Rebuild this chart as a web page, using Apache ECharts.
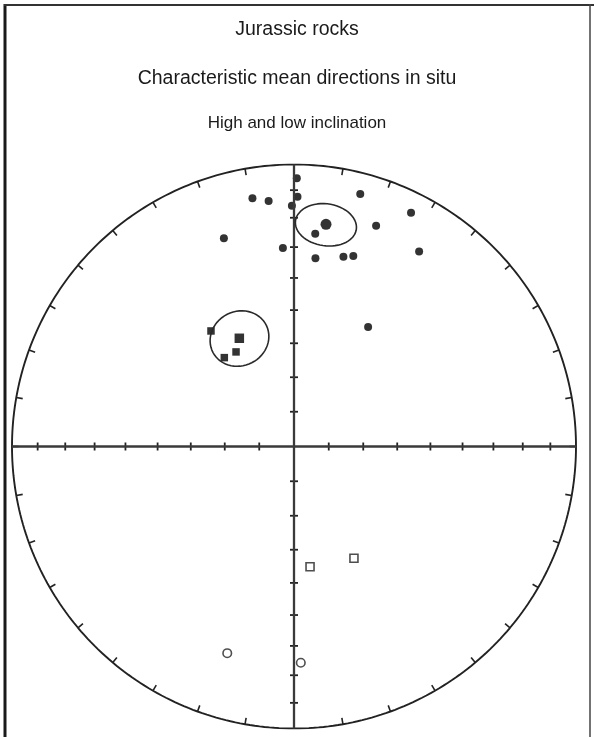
<!DOCTYPE html>
<html>
<head>
<meta charset="utf-8">
<script src="https://cdn.jsdelivr.net/npm/echarts@6/dist/echarts.min.js"></script>
<style>
html,body{margin:0;padding:0;background:#fff;}
#chart{width:594px;height:737px;}
</style>
</head>
<body>
<div id="chart"></div>
<script>
// ---- Data (declination, inclination in degrees) ----
// Lower hemisphere (positive inclination), filled circles
const circleDec = [0.6, 0.8, 359.5, 350.5, 354.1, 341.4, 356.8, 5.7, 6.5, 14.6, 17.3, 14.7, 20.4, 26.6, 32.7, 31.8];
const circleInc = [5.5, 12.4, 15.7, 11.7, 13.5, 23.1, 30.2, 25.2, 33.3, 31.1, 30.0, 8.2, 17.6, 8.1, 19.0, 48.7];
const circleMean = [8.2, 21.5];      // dec, inc
const circleA95 = 7.3;
// Filled squares
const squareDec = [324.3, 328.5, 321.9];
const squareInc = [48.2, 57.7, 57.1];
const squareMean = [333.2, 54.6];
const squareA95 = 8.2;
// Upper hemisphere (negative inclination), open symbols
const openSquareDec = [172.4, 151.8];
const openSquareInc = [-54.6, -52.9];
const openCircleDec = [197.9, 178.2];
const openCircleInc = [-24.0, -24.3];
// Net ticks
const declinationTicks = [0,10,20,30,40,50,60,70,80,90,100,110,120,130,140,150,160,170,180,190,200,210,220,230,240,250,260,270,280,290,300,310,320,330,340,350];
const inclinationTicks = [10,20,30,40,50,60,70,80];
const titles = ['Jurassic rocks', 'Characteristic mean directions in situ', 'High and low inclination'];

// ---- Equal-area (Schmidt) projection ----
const RAD = Math.PI / 180;
function eqArea(dec, inc) {
  const p = (90 - Math.abs(inc)) * RAD;
  const d = Math.SQRT2 * Math.sin(p / 2);
  return [d * Math.sin(dec * RAD), d * Math.cos(dec * RAD)];
}
function proj(decs, incs) { return decs.map((d, i) => eqArea(d, incs[i])); }
function radiusOf(inc) { return Math.SQRT2 * Math.sin((90 - inc) * RAD / 2); }
// small circle of angular radius a around (dec, inc)
function cone(dec, inc, a) {
  const D = dec * RAD, I = inc * RAD, A = a * RAD;
  const m = [Math.cos(I) * Math.cos(D), Math.cos(I) * Math.sin(D), Math.sin(I)];
  const u = [-Math.sin(D), Math.cos(D), 0];
  const w = [-Math.sin(I) * Math.cos(D), -Math.sin(I) * Math.sin(D), Math.cos(I)];
  const pts = [];
  for (let k = 0; k <= 120; k++) {
    const t = k / 120 * 2 * Math.PI;
    const v = [0,1,2].map(j => Math.cos(A) * m[j] + Math.sin(A) * (Math.cos(t) * u[j] + Math.sin(t) * w[j]));
    const inc2 = Math.asin(v[2]) / RAD;
    const dec2 = Math.atan2(v[1], v[0]) / RAD;
    pts.push(eqArea(dec2, inc2));
  }
  return pts;
}
const primitive = [];
for (let k = 0; k <= 360; k++) primitive.push([Math.sin(k * RAD), Math.cos(k * RAD)]);

const LINE = '#222';
const FONT = 'Liberation Sans';
const chart = echarts.init(document.getElementById('chart'), null, {renderer: 'canvas'});
const option = {
  animation: false,
  backgroundColor: '#fff',
  title: [
    {text: titles[0], left: 'center', top: 15, textStyle: {fontFamily: FONT, fontSize: 19.5, fontWeight: 'normal', color: '#1a1a1a'}},
    {text: titles[1], left: 'center', top: 64, textStyle: {fontFamily: FONT, fontSize: 19.5, fontWeight: 'normal', color: '#1a1a1a'}},
    {text: titles[2], left: 'center', top: 110, textStyle: {fontFamily: FONT, fontSize: 17, fontWeight: 'normal', color: '#1a1a1a'}}
  ],
  grid: {left: 12, top: 164.5, width: 564, height: 564},
  xAxis: {type: 'value', min: -1, max: 1, show: false},
  yAxis: {type: 'value', min: -1, max: 1, show: false},
  graphic: [
    {type: 'line', shape: {x1: 5, y1: 4, x2: 5, y2: 737}, style: {stroke: '#1a1a1a', lineWidth: 3}},
    {type: 'line', shape: {x1: 4, y1: 5, x2: 594, y2: 5}, style: {stroke: '#333', lineWidth: 2.2}},
    {type: 'line', shape: {x1: 590, y1: 4, x2: 590, y2: 737}, style: {stroke: '#444', lineWidth: 1.5}}
  ],
  series: [
    {type: 'line', data: primitive, showSymbol: false, silent: true, lineStyle: {color: LINE, width: 1.9}},
    {type: 'line', data: [[-1, 0], [1, 0]], showSymbol: false, silent: true, lineStyle: {color: '#3a3a3a', width: 2.3}},
    {type: 'line', data: [[0, -1], [0, 1]], showSymbol: false, silent: true, lineStyle: {color: '#3a3a3a', width: 2.3}},
    {
      type: 'custom', silent: true, data: declinationTicks.map(d => [d]), encode: {x: 0, y: 0}, clip: false,
      renderItem: function (params, api) {
        const dec = api.value(0) * RAD;
        const o = api.coord([Math.sin(dec), Math.cos(dec)]);
        const c = api.coord([0, 0]);
        const vx = c[0] - o[0], vy = c[1] - o[1], n = Math.hypot(vx, vy), len = 6.5;
        return {type: 'line', shape: {x1: o[0], y1: o[1], x2: o[0] + vx / n * len, y2: o[1] + vy / n * len}, style: {stroke: LINE, lineWidth: 1.6}};
      }
    },
    {
      type: 'custom', silent: true, data: inclinationTicks.map(d => [d]), encode: {x: 0, y: 0}, clip: false,
      renderItem: function (params, api) {
        const r = radiusOf(api.value(0));
        const h = 4;
        const kids = [];
        [[r, 0], [-r, 0]].forEach(q => { const p = api.coord(q); kids.push({type: 'line', shape: {x1: p[0], y1: p[1] - h, x2: p[0], y2: p[1] + h}, style: {stroke: '#222', lineWidth: 1.8}}); });
        [[0, r], [0, -r]].forEach(q => { const p = api.coord(q); kids.push({type: 'line', shape: {x1: p[0] - h, y1: p[1], x2: p[0] + h, y2: p[1]}, style: {stroke: '#222', lineWidth: 1.8}}); });
        return {type: 'group', children: kids};
      }
    },
    {type: 'line', data: cone(circleMean[0], circleMean[1], circleA95), showSymbol: false, silent: true, lineStyle: {color: '#2a2a2a', width: 1.6}},
    {type: 'line', data: cone(squareMean[0], squareMean[1], squareA95), showSymbol: false, silent: true, lineStyle: {color: '#2a2a2a', width: 1.6}},
    {type: 'scatter', data: proj(circleDec, circleInc), symbol: 'circle', symbolSize: 8, itemStyle: {color: '#000'}},
    {type: 'scatter', data: [eqArea(circleMean[0], circleMean[1])], symbol: 'circle', symbolSize: 11, itemStyle: {color: '#000'}},
    {type: 'scatter', data: proj(squareDec, squareInc), symbol: 'rect', symbolSize: 7.5, itemStyle: {color: '#000'}},
    {type: 'scatter', data: [eqArea(squareMean[0], squareMean[1])], symbol: 'rect', symbolSize: 9.5, itemStyle: {color: '#000'}},
    {type: 'scatter', data: proj(openSquareDec, openSquareInc), symbol: 'rect', symbolSize: 8, itemStyle: {color: '#fff', borderColor: '#222', borderWidth: 1.6}},
    {type: 'scatter', data: proj(openCircleDec, openCircleInc), symbol: 'circle', symbolSize: 8.5, itemStyle: {color: '#fff', borderColor: '#222', borderWidth: 1.6}}
  ]
};
chart.setOption(option);
</script>
</body>
</html>
